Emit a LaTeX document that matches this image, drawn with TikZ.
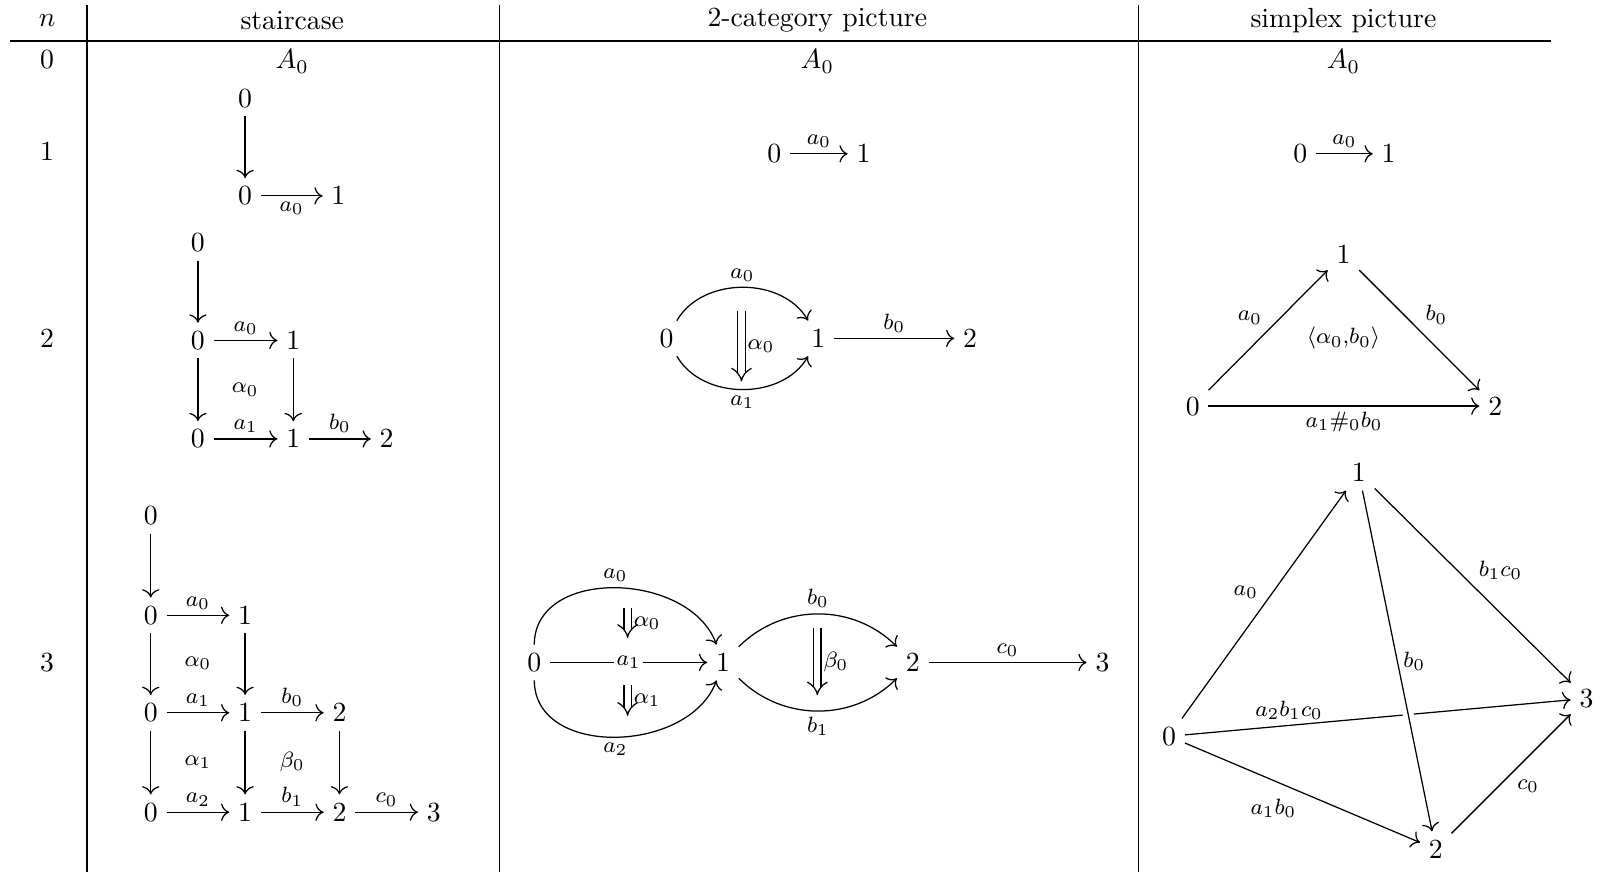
\documentclass[tikz,border=0pt]{standalone}
\usepackage{amsmath,amssymb}
\usetikzlibrary{
	arrows.meta,
	positioning,
	calc
}

\begin{document}
\begin{tikzpicture}[
			x=0.37pt, y=-0.37pt,
			obj/.style={inner sep=3pt},
			lbl/.style={font=\footnotesize, inner sep=2pt},
			rule/.style={line width=0.5pt},
			arrow/.style={-{To[scale=1.15]}, line width=0.45pt},
			dbl/.style={double, double distance=2.2pt, line width=0.45pt, -{Implies}}
			]
			\useasboundingbox (0,0) rectangle (1568,850);
			
			% ---------------- HEADER ----------------
			\node (hn) at (46,20) {$n$};
			\node (hstair) at (285,20) {staircase};
			\node (hcat) at (797,20) {2-category picture};
			\node (hsimp) at (1310,20) {simplex picture};
			
			\draw[rule] (10,40) -- (1512,40);
			\draw[rule] (85,5) -- (85,850);
			\draw[rule] (487,5) -- (487,850);
			\draw[rule] (1110,5) -- (1110,850);
			
			% row numbers
			\node (r0) at (46,58) {$0$};
			\node (r1) at (46,148) {$1$};
			\node (r2) at (46,330) {$2$};
			\node (r3) at (46,646) {$3$};
			
			% ---------------- n = 0 ----------------
			\node (s0) at (285,60) {$A_0$};
			\node (c0) at (797,60) {$A_0$};
			\node (p0) at (1310,60) {$A_0$};
			
			% ---------------- n = 1 ----------------
			\node[obj] (s1a) at (239,96) {$0$};
			\node[obj] (s1b) at (239,191) {$0$};
			\node[obj] (s1c) at (330,191) {$1$};
			\draw[arrow] (s1a) -- (s1b);
			\draw[arrow] (s1b) -- node[lbl, below] {$a_0$} (s1c);
			
			\node[obj] (c1a) at (755,150) {$0$};
			\node[obj] (c1b) at (842,150) {$1$};
			\draw[arrow] (c1a) -- node[lbl, above] {$a_0$} (c1b);
			
			\node[obj] (p1a) at (1268,150) {$0$};
			\node[obj] (p1b) at (1354,150) {$1$};
			\draw[arrow] (p1a) -- node[lbl, above] {$a_0$} (p1b);
			
			% ---------------- n = 2 ----------------
			\node[obj] (s2a) at (193,237) {$0$};
			\node[obj] (s2b) at (193,332) {$0$};
			\node[obj] (s2c) at (286,332) {$1$};
			\node[obj] (s2d) at (193,428) {$0$};
			\node[obj] (s2e) at (286,428) {$1$};
			\node[obj] (s2f) at (377,428) {$2$};
			\draw[arrow] (s2a) -- (s2b);
			\draw[arrow] (s2b) -- node[lbl, above] {$a_0$} (s2c);
			\draw[arrow] (s2b) -- (s2d);
			\draw[arrow] (s2c) -- (s2e);
			\draw[arrow] (s2d) -- node[lbl, above] {$a_1$} (s2e);
			\draw[arrow] (s2e) -- node[lbl, above] {$b_0$} (s2f);
			\node[lbl] (s2al) at (239,380) {$\alpha_0$};
			
			\node[obj] (c2a) at (650,330) {$0$};
			\node[obj] (c2b) at (798,330) {$1$};
			\node[obj] (c2c) at (946,330) {$2$};
			\draw[arrow] (c2a) to[bend left=60] node[lbl, above] {$a_0$} (c2b);
			\draw[arrow] (c2a) to[bend right=60] node[lbl, below] {$a_1$} (c2b);
			\draw[arrow] (c2b) -- node[lbl, above] {$b_0$} (c2c);
			\coordinate (c2u) at (723,303);
			\coordinate (c2d) at (723,372);
			\draw[dbl] (c2u) -- node[lbl, right] {$\alpha_0$} (c2d);
			
			\node[obj] (p2a) at (1163,396) {$0$};
			\node[obj] (p2b) at (1310,248) {$1$};
			\node[obj] (p2c) at (1458,396) {$2$};
			\draw[arrow] (p2a) -- node[lbl, above left] {$a_0$} (p2b);
			\draw[arrow] (p2b) -- node[lbl, above right] {$b_0$} (p2c);
			\draw[arrow] (p2a) -- node[lbl, below] {$a_1\#_0b_0$} (p2c);
			\node[lbl] (p2m) at (1310,330) {$\langle\alpha_0{,}b_0\rangle$};
			
			% ---------------- n = 3 ----------------
			\node[obj] (s3a) at (147,503) {$0$};
			\node[obj] (s3b) at (147,600) {$0$};
			\node[obj] (s3c) at (239,600) {$1$};
			\node[obj] (s3d) at (147,695) {$0$};
			\node[obj] (s3e) at (239,695) {$1$};
			\node[obj] (s3f) at (331,695) {$2$};
			\node[obj] (s3g) at (147,792) {$0$};
			\node[obj] (s3h) at (239,792) {$1$};
			\node[obj] (s3i) at (331,792) {$2$};
			\node[obj] (s3j) at (423,792) {$3$};
			\draw[arrow] (s3a) -- (s3b);
			\draw[arrow] (s3b) -- node[lbl, above] {$a_0$} (s3c);
			\draw[arrow] (s3b) -- (s3d);
			\draw[arrow] (s3c) -- (s3e);
			\draw[arrow] (s3d) -- node[lbl, above] {$a_1$} (s3e);
			\draw[arrow] (s3e) -- node[lbl, above] {$b_0$} (s3f);
			\draw[arrow] (s3d) -- (s3g);
			\draw[arrow] (s3e) -- (s3h);
			\draw[arrow] (s3f) -- (s3i);
			\draw[arrow] (s3g) -- node[lbl, above] {$a_2$} (s3h);
			\draw[arrow] (s3h) -- node[lbl, above] {$b_1$} (s3i);
			\draw[arrow] (s3i) -- node[lbl, above] {$c_0$} (s3j);
			\node[lbl] (s3al0) at (193,647) {$\alpha_0$};
			\node[lbl] (s3al1) at (193,743) {$\alpha_1$};
			\node[lbl] (s3be0) at (285,743) {$\beta_0$};
			
			\node[obj] (c3a) at (521,646) {$0$};
			\node[obj] (c3b) at (705,646) {$1$};
			\node[obj] (c3c) at (890,646) {$2$};
			\node[obj] (c3d) at (1075,646) {$3$};
			\draw[arrow] (c3a) to[out=90, in=110, looseness=1.1] node[lbl, above] {$a_0$} (c3b);
			\draw[arrow] (c3a) -- node[lbl, fill=white, inner sep=1pt] {$a_1$} (c3b);
			\draw[arrow] (c3a) to[out=-90, in=-110, looseness=1.1] node[lbl, below] {$a_2$} (c3b);
			\coordinate (c3u0) at (612,593);
			\coordinate (c3d0) at (612,622);
			\draw[dbl] (c3u0) -- node[lbl, right] {$\alpha_0$} (c3d0);
			\coordinate (c3u1) at (612,668);
			\coordinate (c3d1) at (612,698);
			\draw[dbl] (c3u1) -- node[lbl, right] {$\alpha_1$} (c3d1);
			\draw[arrow] (c3b) to[bend left=45] node[lbl, above] {$b_0$} (c3c);
			\draw[arrow] (c3b) to[bend right=45] node[lbl, below] {$b_1$} (c3c);
			\coordinate (c3u2) at (797,612);
			\coordinate (c3d2) at (797,678);
			\draw[dbl] (c3u2) -- node[lbl, right] {$\beta_0$} (c3d2);
			\draw[arrow] (c3c) -- node[lbl, above] {$c_0$} (c3d);
			
			\node[obj] (p3a) at (1140,718) {$0$};
			\node[obj] (p3b) at (1325,461) {$1$};
			\node[obj] (p3c) at (1400,828) {$2$};
			\node[obj] (p3d) at (1547,681) {$3$};
			\draw[arrow] (p3a) -- node[lbl, above left] {$a_0$} (p3b);
			\draw[arrow] (p3b) -- node[lbl, above right] {$b_1c_0$} (p3d);
			\draw[arrow] (p3a) -- node[lbl, above, pos=0.27] {$a_2b_1c_0$} (p3d);
			% gap where b_0 crosses over
			\path (p3b) -- (p3c) coordinate[pos=0.6] (gapA) coordinate[pos=0.72] (gapB);
			\draw[white, line width=4pt] (gapA) -- (gapB);
			\draw[arrow] (p3b) -- node[lbl, right, pos=0.5] {$b_0$} (p3c);
			\draw[arrow] (p3a) -- node[lbl, below left] {$a_1b_0$} (p3c);
			\draw[arrow] (p3c) -- node[lbl, below right] {$c_0$} (p3d);
		\end{tikzpicture}
\end{document}
